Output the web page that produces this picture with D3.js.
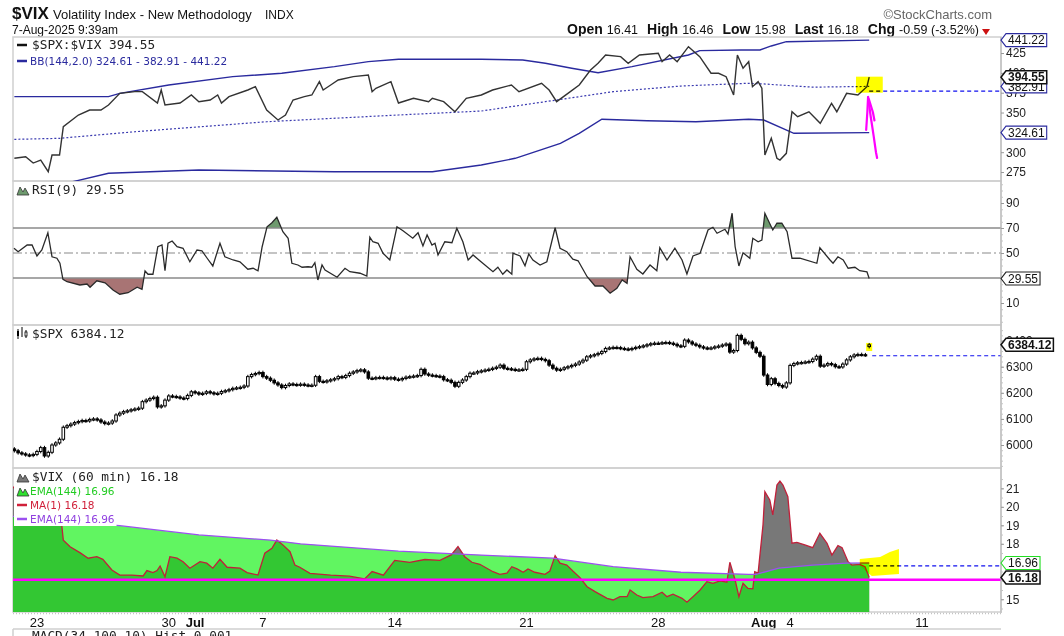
<!DOCTYPE html>
<html>
<head>
<meta charset="utf-8">
<title>$VIX Volatility Index</title>
<script src="https://cdn.jsdelivr.net/npm/d3@7/dist/d3.min.js"></script>
<style>
  body { margin: 0; background: #fff; overflow: hidden; }
</style>
</head>
<body>
<div id="chart"></div>
<script>
// hourly bars, bar 0 = first bar of 20-Jun-2025
var dayLabels = ["Jun 20", "Jun 23", "Jun 24", "Jun 25", "Jun 26", "Jun 27", "Jun 30",
  "Jul 1", "Jul 2", "Jul 3", "Jul 7", "Jul 8", "Jul 9", "Jul 10", "Jul 11", "Jul 14", "Jul 15",
  "Jul 16", "Jul 17", "Jul 18", "Jul 21", "Jul 22", "Jul 23", "Jul 24", "Jul 25", "Jul 28",
  "Jul 29", "Jul 30", "Jul 31", "Aug 1", "Aug 4", "Aug 5", "Aug 6", "Aug 7", "Aug 8", "Aug 11"];
var dayBars = [7, 7, 7, 7, 7, 7, 7, 7, 7, 4, 7, 7, 7, 7, 7, 7, 7, 7, 7, 7, 7, 7, 7, 7, 7, 7,
  7, 7, 7, 7, 7, 7, 7, 7, 7, 7];

var xTickDays = ["Jun 23", "Jun 30", "Jul 1", "Jul 7", "Jul 14", "Jul 21", "Jul 28", "Aug 1", "Aug 4", "Aug 11"];
var xTickText = ["23", "30", "Jul", "7", "14", "21", "28", "Aug", "4", "11"];

// $SPX:$VIX ratio
var ratioBar = [1, 4, 6, 8, 10, 11, 13, 14, 18, 21, 24, 26, 29, 33, 35, 39, 40, 41, 45, 48,
  50, 53, 55, 56, 58, 63, 65, 68, 71, 73, 75, 78, 80, 82, 83, 85, 87, 91, 95, 96,
  97, 101, 103, 107, 111, 112, 115, 118, 121, 125, 128, 133, 135, 141, 143, 145, 148, 151, 154, 156,
  158, 162, 164, 167, 172, 173, 175, 177, 180, 183, 186, 188, 190, 192, 193, 194.5, 196, 197, 198.5, 199.5,
  200.3, 202, 203.5, 204.3, 206, 207.5, 209, 212, 215, 218, 219.4, 222, 225, 227.4, 228];
var ratioVal = [292.3, 294.3, 286.3, 290.1, 275.4, 296.4, 296.4, 332.1, 346.9, 353.2,
  353.2, 359.5, 374.2, 376.3, 376.3, 362, 378.4, 359.5, 362, 372.1,
  363.7, 365.8, 372.1, 362, 370, 378.4, 382.6, 353.2, 340.6, 346.9,
  365.8, 370, 372.1, 388.9, 378.4, 384.7, 391, 395.2, 397.3, 376.3,
  380.6, 388.9, 362, 367.9, 363.7, 367.9, 363.7, 351, 367.9, 372.1,
  378.4, 384.7, 376.3, 386.9, 378.4, 363.7, 374.2, 384.7, 403.6, 412.1,
  422.5, 420.4, 412.1, 422.5, 424.7, 414.1, 422.5, 414.1, 433, 420.4,
  399.5, 399.5, 395.2, 372.1, 422.5, 405.8, 414.1, 382.6, 388.9, 380.6,
  296.4, 317.5, 292.3, 290.1, 298.6, 351, 344.7, 351, 336.4, 361.6,
  351, 374.2, 372.1, 382.6, 394.55];

// Bollinger bands (144, 2.0)
var bbUpperBar = [1, 13, 26, 29, 42, 59, 72, 86, 95, 103, 125, 136, 142, 149, 156, 165, 180, 183, 194, 199, 202, 206, 228];
var bbUpperVal = [370, 370, 370, 374.2, 384.7, 395.2, 399.5, 407.8, 414.1, 417.1, 417.1, 416.2,
  412.1, 405.8, 400.2, 407.8, 422.5, 428, 428.8, 428.8, 433.9, 439.3, 441.22];
var bbMidBar = [1, 13, 33, 68, 103, 125, 142, 160, 178, 196, 200, 213, 228];
var bbMidVal = [316.2, 317.5, 325.8, 338.4, 346.9, 351.9, 363.7, 376.3, 383.4, 386.9, 386, 382, 382.91];
var bbLowerBar = [1, 13, 18, 26, 50, 86, 112, 125, 134, 146, 151, 157, 169, 182, 196, 200, 208, 228];
var bbLowerVal = [256, 259, 264.5, 273.4, 277.5, 275.4, 275.4, 283.8, 292.3, 311.2, 323.8, 341.5,
  339.7, 338.4, 341.5, 340.6, 323.8, 324.61];

// RSI(9)
var rsiBar = [0.9, 2, 4.4, 5.7, 7, 8.3, 9.9, 11, 12.3, 13.1, 13.9, 15, 18.4, 20.3, 21.1, 22.9, 25.1, 27.2, 29, 31.2,
  33.6, 34.9, 35.7, 36.5, 37.8, 39.1, 40.2, 41, 41.8, 42.9, 44.2, 45.8, 47.6, 49.5, 50.8, 52.2, 53.7, 55.6, 56.9, 59.1,
  60.9, 63, 64.4, 65.7, 66.8, 68.1, 69.4, 70.7, 72.3, 73.7, 74.7, 76.3, 77.4, 79, 80, 80.8, 81.6, 82.7, 83.5, 86.7,
  88.8, 90.1, 92.8, 94.6, 95.4, 96.2, 97.6, 98.9, 100.7, 102.6, 104.2, 106.8, 108.2, 109.5, 110.6, 111.9, 112.7, 113.5, 115.3, 117.2,
  118.5, 120.1, 121.5, 122.8, 124.6, 128.1, 129.4, 130.7, 131.8, 133.1, 133.4, 135.3, 136.6, 137.6, 138.7, 140.6, 142.4, 144.6, 145.9, 147.7,
  149.3, 150.7, 153.1, 155.2, 157.3, 159.2, 161, 162.4, 163.7, 164.5, 166.3, 167.9, 169.8, 171.6, 172.4, 174.3, 176.4, 178.3, 179.6, 181.2,
  183.1, 185.2, 186.5, 187.6, 189.7, 190.5, 191.6, 192.4, 193.4, 194.5, 196.3, 197.1, 198.5, 199.5, 200.3, 202.4, 203.5, 204.8, 206.2, 207.5,
  209.6, 214.1, 214.9, 217.6, 218.4, 219.7, 221.1, 222.4, 224.2, 225.5, 227.4, 228];
var rsiVal = [53.8, 51, 56.4, 56.4, 47.6, 52.4, 66.2, 47, 45.8, 41.8, 29, 27, 24.4, 25.2, 22.6, 27.8, 26.2, 20.4, 17, 18.2,
  22.6, 21, 35.6, 33, 33, 55, 56.4, 35.8, 57.8, 59.6, 55, 53.8, 43, 52.4, 51.8, 45.8, 39.6, 57.8, 47, 44.4,
  43, 37, 37.8, 35.8, 55, 71, 74.2, 78.6, 67, 61.8, 41.8, 40.4, 38.6, 39, 38.6, 42.2, 28.4, 40.4, 36.4, 30.6,
  37.8, 35, 33.8, 31.6, 62.6, 59, 57.8, 49.8, 44.4, 71, 67.8, 61.8, 66.2, 55.6, 64.4, 56.4, 57.8, 48.4, 59, 58.2,
  69.8, 59, 44.4, 48.4, 43.8, 35, 38.6, 33, 36.4, 33, 49.8, 47.6, 39.8, 49.2, 44.4, 40.4, 43, 70.2, 53.8, 51,
  45, 43.8, 31, 23.6, 23.6, 17.8, 21.8, 28.4, 25.8, 47, 37, 33.2, 40.4, 35.8, 54.2, 44.4, 53.8, 44.4, 33.2, 47.6,
  49.8, 68.4, 70.6, 65.8, 69, 65.2, 81.8, 55, 39.6, 50.2, 45.8, 61.8, 59, 60.4, 81.8, 68.4, 73.8, 73.8, 67, 45.8,
  45.8, 41.8, 54.2, 44.4, 41.8, 47, 44.4, 37.8, 38.6, 35.8, 35, 29.55];

// $SPX hourly closes, one per bar
var spxClose = [
  5985, 5978, 5970, 5966, 5962, 5960, 5964,   // Jun 20
  5975, 5990, 5958, 5972, 6000, 6008, 6022,   // Jun 23
  6068, 6074, 6080, 6086, 6090, 6094, 6092,   // Jun 24
  6098, 6100, 6096, 6088, 6082, 6084, 6092,   // Jun 25
  6115, 6122, 6128, 6131, 6135, 6138, 6141,   // Jun 26
  6166, 6172, 6178, 6183, 6146, 6150, 6172,   // Jun 27
  6188, 6186, 6184, 6180, 6178, 6190, 6204,   // Jun 30
  6200, 6195, 6198, 6204, 6200, 6196, 6198,   // Jul 1
  6205, 6208, 6212, 6217, 6219, 6221, 6226,   // Jul 2
  6262, 6270, 6274, 6278,                     // Jul 3
  6262, 6256, 6248, 6238, 6230, 6220, 6228,   // Jul 7
  6234, 6232, 6230, 6233, 6230, 6228, 6229,   // Jul 8
  6262, 6244, 6242, 6246, 6250, 6254, 6262,   // Jul 9
  6259, 6266, 6275, 6280, 6285, 6288, 6280,   // Jul 10
  6256, 6255, 6258, 6259, 6257, 6254, 6258,   // Jul 11
  6252, 6250, 6255, 6260, 6262, 6264, 6266,   // Jul 14
  6290, 6272, 6268, 6266, 6264, 6262, 6250,   // Jul 15
  6248, 6240, 6225, 6240, 6249, 6262, 6275,   // Jul 16
  6276, 6281, 6284, 6287, 6290, 6294, 6298,   // Jul 17
  6306, 6294, 6292, 6290, 6287, 6288, 6290,   // Jul 18
  6319, 6326, 6330, 6332, 6328, 6323, 6306,   // Jul 21
  6294, 6287, 6290, 6296, 6300, 6305, 6310,   // Jul 22
  6318, 6325, 6338, 6342, 6346, 6351, 6358,   // Jul 23
  6370, 6372, 6374, 6373, 6370, 6368, 6366,   // Jul 24
  6370, 6374, 6377, 6380, 6384, 6388, 6390,   // Jul 25
  6390, 6392, 6393, 6390, 6386, 6380, 6378,   // Jul 28
  6402, 6395, 6387, 6382, 6376, 6372, 6370,   // Jul 29
  6372, 6376, 6379, 6383, 6387, 6356, 6362,   // Jul 30
  6420, 6405, 6388, 6394, 6372, 6355, 6340,   // Jul 31
  6268, 6232, 6254, 6236, 6228, 6222, 6238,   // Aug 1
  6305, 6312, 6315, 6316, 6318, 6320, 6329,   // Aug 4
  6340, 6302, 6306, 6312, 6308, 6300, 6299,   // Aug 5
  6310, 6326, 6338, 6345, 6347, 6346, 6345,   // Aug 6
  6384                                        // Aug 7
];
var spxGapBar = [228];
var spxGapOpen = [6377];

// $VIX 60 min closes
var vixBar = [0, 2, 4, 6, 8, 10, 12, 13.6, 14, 15.8, 18.4, 20.6, 22.9, 24.5, 26.9, 29, 32.2, 35.2, 36.2, 37.8,
  38.9, 39.7, 41, 42.3, 44.2, 45.8, 47.6, 50.3, 52.1, 53.7, 55.6, 57.5, 60.9, 62.8, 65.7, 67.5, 69.4, 70.7, 72.3, 74.2,
  75.5, 76.8, 79.5, 85, 90, 94, 96, 99, 102, 106, 110, 114, 117, 118.8, 120.6, 122.5, 124.6, 128.1, 129.9, 131.8,
  133.1, 134.5, 136.1, 137.4, 139.2, 141.9, 143.2, 144.6, 145.9, 147.7, 149.3, 151.2, 153.1, 155.2, 158.4, 160, 161.8, 163.7, 164.5, 166.3,
  167.9, 170.6, 173, 174.3, 175.9, 178.3, 179.6, 181.2, 183.1, 184.9, 186.5, 188.4, 190.2, 191, 192.4, 193.4, 194.5, 195.8, 197.1, 197.6,
  198.5, 199.8, 200.3, 201.6, 202.4, 203.5, 204.3, 205.1, 206.4, 207.5, 208.8, 210.9, 213, 214.9, 216.8, 218.1, 219.7, 220.8, 222.4, 223.4,
  225.5, 226.9, 228];
var vixVal = [20.9, 21.3, 20.8, 20.6, 20.9, 21.4, 20.2, 18.98, 18.2, 17.84, 17.52, 17.22, 17.3, 17.16, 16.58, 16.31, 16.31, 16.26, 16.55, 16.44,
  16.55, 16.8, 16.22, 17.3, 17.22, 17.03, 16.68, 17.03, 16.95, 16.68, 17.16, 16.73, 16.68, 16.44, 16.31, 17.49, 17.76, 18.2, 17.94, 17.57,
  16.85, 16.73, 16.4, 16.3, 16.25, 16.1, 16.5, 16.3, 17.1, 17.0, 17.15, 17.1, 17.4, 17.85, 17.3, 17.0, 16.89, 16.49, 16.35, 16.41,
  16.76, 16.64, 16.46, 16.64, 16.46, 16.35, 16.53, 17.36, 16.95, 16.85, 16.53, 16.17, 15.68, 15.41, 15.05, 14.96, 15.14, 15.14, 15.5, 15.23,
  15.09, 15.14, 15.38, 15.14, 15.27, 15.05, 14.84, 15.14, 15.5, 15.95, 15.86, 15.99, 15.92, 17.0, 16.04, 15.14, 15.86, 15.59, 15.56, 16.49,
  16.41, 19.02, 20.82, 20.37, 19.56, 21.18, 21.39, 21.18, 20.55, 18.03, 18.08, 17.94, 17.79, 18.57, 18.03, 17.39, 17.9, 17.79, 17.03, 16.85,
  16.89, 16.76, 16.18];

// EMA(144) of $VIX
var emaBar = [0, 14, 29, 50, 69, 77, 103, 125, 144, 160, 178, 196, 198, 204, 213, 222, 228];
var emaVal = [19.5, 19.2, 18.98, 18.48, 18.2, 18.0, 17.6, 17.39, 17.22, 16.76, 16.46, 16.35, 16.35, 16.68, 16.85, 16.95, 16.96];

var quoteNames = ["Open", "High", "Low", "Last", "Chg"];
var quoteValues = ["16.41", "16.46", "15.98", "16.18", "-0.59 (-3.52%)"];

var SANS = "'Liberation Sans', Arial, sans-serif";
var MONO = "'DejaVu Sans Mono', monospace";
var LEG = "'DejaVu Sans', sans-serif";

var svgWidth = 1064;
var svgHeight = 636;
var plotLeft = 13;
var plotRight = 1001;
var panels = [
  { top: 37, bottom: 181 },
  { top: 181, bottom: 325 },
  { top: 325, bottom: 468 },
  { top: 468, bottom: 612 }
];

// day start bar numbers
var dayStart = [];
var acc = 0;
dayBars.forEach(function(n) {
  dayStart.push(acc);
  acc += n;
});
function barOf(day) {
  return dayStart[dayLabels.indexOf(day)];
}

var svg = d3.select("#chart")
  .append("svg")
  .attr("width", svgWidth)
  .attr("height", svgHeight);

svg.append("rect").attr("width", svgWidth).attr("height", svgHeight).attr("fill", "#fff");

var x = d3.scaleLinear().domain([0.64, 263]).range([plotLeft, plotRight]);
var y1 = d3.scaleLinear().domain([263.7, 445.2]).range([panels[0].bottom, panels[0].top]);
var y2 = d3.scaleLinear().domain([-7.6, 107.6]).range([panels[1].bottom, panels[1].top]);
var y3 = d3.scaleLinear().domain([5911.9, 6459.8]).range([panels[2].bottom, panels[2].top]);
var y4 = d3.scaleLinear().domain([14.31, 22.1]).range([panels[3].bottom, panels[3].top]);

// clip paths
var defs = svg.append("defs");
panels.forEach(function(p, i) {
  defs.append("clipPath").attr("id", "clip" + i)
    .append("rect")
    .attr("x", plotLeft).attr("y", p.top)
    .attr("width", plotRight - plotLeft).attr("height", p.bottom - p.top);
});
defs.append("clipPath").attr("id", "rsiHi")
  .append("rect").attr("x", plotLeft).attr("y", panels[1].top)
  .attr("width", plotRight - plotLeft).attr("height", y2(70) - panels[1].top);
defs.append("clipPath").attr("id", "rsiLo")
  .append("rect").attr("x", plotLeft).attr("y", y2(30))
  .attr("width", plotRight - plotLeft).attr("height", panels[1].bottom - y2(30));

function lineOf(yScale) {
  return d3.line().x(function(d) { return x(d[0]); }).y(function(d) { return yScale(d[1]); });
}

// header
svg.append("text").attr("x", 12).attr("y", 19).attr("font-family", SANS)
  .attr("font-size", 17).attr("font-weight", "bold").attr("fill", "#111").text("$VIX");
svg.append("text").attr("x", 53).attr("y", 19).attr("font-family", SANS)
  .attr("font-size", 13).attr("fill", "#111").text("Volatility Index - New Methodology");
svg.append("text").attr("x", 265).attr("y", 19).attr("font-family", SANS)
  .attr("font-size", 12).attr("fill", "#111").text("INDX");
svg.append("text").attr("x", 12).attr("y", 34).attr("font-family", SANS)
  .attr("font-size", 12).attr("fill", "#111").text("7-Aug-2025 9:39am");
svg.append("text").attr("x", 992).attr("y", 19).attr("text-anchor", "end").attr("font-family", SANS)
  .attr("font-size", 13).attr("fill", "#666").text("\u00A9StockCharts.com");

var quote = svg.append("text").attr("x", 567).attr("y", 34).attr("font-family", SANS).attr("fill", "#111");
quoteNames.forEach(function(n, i) {
  quote.append("tspan").attr("dx", i ? 9 : 0).attr("font-size", 14).attr("font-weight", "bold").text(n);
  quote.append("tspan").attr("dx", 4).attr("font-size", 12.5).text(quoteValues[i]);
});
svg.append("path").attr("d", "M982,29h8l-4,6z").attr("fill", "#cc1111");

// panel frames
panels.forEach(function(p) {
  svg.append("rect")
    .attr("x", plotLeft).attr("y", p.top)
    .attr("width", plotRight - plotLeft).attr("height", p.bottom - p.top)
    .attr("fill", "none").attr("stroke", "#cfcfcf").attr("stroke-width", 1.5);
});

// ---- panel 1: $SPX:$VIX with BB ----
var g1 = svg.append("g").attr("clip-path", "url(#clip0)");
g1.append("path").datum(d3.zip(bbUpperBar, bbUpperVal)).attr("d", lineOf(y1))
  .attr("fill", "none").attr("stroke", "#2a2a9e").attr("stroke-width", 1.4);
g1.append("path").datum(d3.zip(bbLowerBar, bbLowerVal)).attr("d", lineOf(y1))
  .attr("fill", "none").attr("stroke", "#2a2a9e").attr("stroke-width", 1.4);
g1.append("path").datum(d3.zip(bbMidBar, bbMidVal)).attr("d", lineOf(y1))
  .attr("fill", "none").attr("stroke", "#3a3ab0").attr("stroke-width", 1.2).attr("stroke-dasharray", "2,2");
g1.append("path").datum(d3.zip(ratioBar, ratioVal)).attr("d", lineOf(y1))
  .attr("fill", "none").attr("stroke", "#333").attr("stroke-width", 1.4);
g1.append("line")
  .attr("x1", x(228)).attr("x2", plotRight).attr("y1", y1(377)).attr("y2", y1(377))
  .attr("stroke", "#1010ee").attr("stroke-width", 1.2).attr("stroke-dasharray", "4,3");
// yellow marker + hand drawn arrow
svg.append("rect")
  .attr("x", x(224.5)).attr("y", y1(395.2))
  .attr("width", x(231.6) - x(224.5)).attr("height", y1(375) - y1(395.2))
  .attr("fill", "#ffff00").style("mix-blend-mode", "multiply");
var arrowStrokes = [
  [[227.2, 328], [227.5, 350], [227.7, 369.6]],
  [[227.7, 369.6], [228.4, 345], [229.2, 320], [229.8, 300], [230.1, 292.7]],
  [[227.9, 367], [229.0, 350], [229.4, 340]]
];
arrowStrokes.forEach(function(s) {
  svg.append("path").datum(s).attr("d", lineOf(y1))
    .attr("fill", "none").attr("stroke", "#ff00ff").attr("stroke-width", 2.2)
    .attr("stroke-linecap", "round");
});

// ---- panel 2: RSI ----
var g2 = svg.append("g").attr("clip-path", "url(#clip1)");
var rsiPts = d3.zip(rsiBar, rsiVal);
g2.append("g").attr("clip-path", "url(#rsiHi)").append("path").datum(rsiPts)
  .attr("d", d3.area().x(function(d) { return x(d[0]); }).y0(y2(70)).y1(function(d) { return y2(d[1]); }))
  .attr("fill", "#6e9a6e");
g2.append("g").attr("clip-path", "url(#rsiLo)").append("path").datum(rsiPts)
  .attr("d", d3.area().x(function(d) { return x(d[0]); }).y0(y2(30)).y1(function(d) { return y2(d[1]); }))
  .attr("fill", "#a87474");
[70, 30].forEach(function(v) {
  g2.append("line").attr("x1", plotLeft).attr("x2", plotRight).attr("y1", y2(v)).attr("y2", y2(v))
    .attr("stroke", "#8a8a8a").attr("stroke-width", 1.3);
});
g2.append("line").attr("x1", plotLeft).attr("x2", plotRight).attr("y1", y2(50)).attr("y2", y2(50))
  .attr("stroke", "#8a8a8a").attr("stroke-width", 1.2).attr("stroke-dasharray", "9,3,2,3");
g2.append("path").datum(rsiPts).attr("d", lineOf(y2))
  .attr("fill", "none").attr("stroke", "#2a2a2a").attr("stroke-width", 1.3);

// ---- panel 3: $SPX candles ----
var g3 = svg.append("g").attr("clip-path", "url(#clip2)");
var candles = spxClose.map(function(c, i) {
  var gi = spxGapBar.indexOf(i);
  var o = gi >= 0 ? spxGapOpen[gi] : (i ? spxClose[i - 1] : c);
  return { bar: i, open: o, close: c };
});
var cg = g3.selectAll("g.candle").data(candles).enter().append("g").attr("class", "candle");
cg.append("line")
  .attr("x1", function(d) { return x(d.bar); })
  .attr("x2", function(d) { return x(d.bar); })
  .attr("y1", function(d) { return y3(Math.max(d.open, d.close)) - 1.8; })
  .attr("y2", function(d) { return y3(Math.min(d.open, d.close)) + 1.8; })
  .attr("stroke", "#000").attr("stroke-width", 1);
cg.append("rect")
  .attr("x", function(d) { return x(d.bar) - 1.3; })
  .attr("width", 2.6)
  .attr("y", function(d) { return y3(Math.max(d.open, d.close)); })
  .attr("height", function(d) { return Math.max(1.2, Math.abs(y3(d.open) - y3(d.close))); })
  .attr("fill", function(d) { return d.close > d.open ? "#fff" : "#000"; })
  .attr("stroke", "#000").attr("stroke-width", 1);
g3.append("line")
  .attr("x1", x(228) + 3).attr("x2", plotRight).attr("y1", y3(6342)).attr("y2", y3(6342))
  .attr("stroke", "#1010ee").attr("stroke-width", 1.2).attr("stroke-dasharray", "4,3");
svg.append("rect")
  .attr("x", x(227.2)).attr("y", y3(6391))
  .attr("width", x(228.8) - x(227.2)).attr("height", y3(6360) - y3(6391))
  .attr("fill", "#ffff00").style("mix-blend-mode", "multiply");

// ---- panel 4: $VIX 60 min ----
var g4 = svg.append("g").attr("clip-path", "url(#clip3)");
var vixPts = d3.zip(vixBar, vixVal);
var emaPts = d3.zip(emaBar, emaVal);
var areaOf = d3.area().x(function(d) { return x(d[0]); }).y0(panels[3].bottom).y1(function(d) { return y4(d[1]); });
g4.append("path").datum(vixPts).attr("d", areaOf).attr("fill", "#787878");
g4.append("path").datum(emaPts).attr("d", areaOf).attr("fill", "rgb(15,240,15)").attr("fill-opacity", 0.66);
g4.append("path").datum(vixPts).attr("d", lineOf(y4))
  .attr("fill", "none").attr("stroke", "#c0203a").attr("stroke-width", 1.3);
g4.append("path").datum(emaPts).attr("d", lineOf(y4))
  .attr("fill", "none").attr("stroke", "#9c50f0").attr("stroke-width", 1.3);
g4.append("line").attr("x1", plotLeft).attr("x2", plotRight).attr("y1", y4(16.05)).attr("y2", y4(16.05))
  .attr("stroke", "#ff00ff").attr("stroke-width", 2.5);
g4.append("line")
  .attr("x1", x(228)).attr("x2", plotRight).attr("y1", y4(16.8)).attr("y2", y4(16.8))
  .attr("stroke", "#1010ee").attr("stroke-width", 1.2).attr("stroke-dasharray", "4,3");
var swoosh = [[225.5, 17.18], [230.9, 17.29], [233.5, 17.56], [235.9, 17.72], [235.9, 16.37], [228.7, 16.26], [225.5, 16.8]];
svg.append("path").datum(swoosh).attr("d", lineOf(y4).curve(d3.curveLinearClosed))
  .attr("fill", "#ffff00").style("mix-blend-mode", "multiply");

// ---- legends ----
function legendRow(yc, label, color, font, size, icon) {
  var g = svg.append("g");
  var t = g.append("text").attr("x", icon === "line" ? 30 : 32)
    .attr("y", yc + 4).attr("font-family", font).attr("font-size", size)
    .attr("fill", color).text(label);
  var w = t.node().getComputedTextLength() + (+t.attr("x"));
  g.insert("rect", "text").attr("x", plotLeft + 1).attr("y", yc - 7)
    .attr("width", w - plotLeft + 1).attr("height", 14).attr("fill", "#fff");
  return g;
}
function dashIcon(g, yc, color) {
  g.append("line").attr("x1", 17).attr("x2", 27).attr("y1", yc).attr("y2", yc)
    .attr("stroke", color).attr("stroke-width", 2.5);
}
function mountIcon(g, yc, color) {
  g.append("path").attr("d", "M17," + (yc + 5) + "l3,-8l3,5l2,-4l4,7z")
    .attr("fill", color).attr("stroke", "#333").attr("stroke-width", 0.8);
}

var r1 = legendRow(45, "$SPX:$VIX 394.55", "#222", MONO, 12.8, "mono");
dashIcon(r1, 45, "#111");
var r2 = legendRow(61, "BB(144,2.0) 324.61 - 382.91 - 441.22", "#2a2a9e", LEG, 10.5, "line");
dashIcon(r2, 61, "#2a2a9e");

var r3 = legendRow(190, "RSI(9) 29.55", "#222", MONO, 12.8, "area");
mountIcon(r3, 190, "#6e9a6e");

var r4 = legendRow(334, "$SPX 6384.12", "#222", MONO, 12.8, "candle");
r4.append("path").attr("d", "M18,329v10M22,327v10M26,330v8").attr("stroke", "#000").attr("stroke-width", 1);
r4.append("rect").attr("x", 17).attr("y", 331).attr("width", 2).attr("height", 5).attr("fill", "#000");
r4.append("rect").attr("x", 25).attr("y", 332).attr("width", 2).attr("height", 4).attr("fill", "#fff").attr("stroke", "#000").attr("stroke-width", 0.8);

var r5 = legendRow(477, "$VIX (60 min) 16.18", "#222", MONO, 12.8, "area");
mountIcon(r5, 477, "#787878");
var r6 = legendRow(491, "EMA(144) 16.96", "#22cc22", LEG, 10.5, "line");
mountIcon(r6, 491, "#2ee02e");
var r7 = legendRow(505, "MA(1) 16.18", "#d0203a", LEG, 10.5, "line");
dashIcon(r7, 505, "#d0203a");
var r8 = legendRow(519, "EMA(144) 16.96", "#9040e0", LEG, 10.5, "line");
dashIcon(r8, 519, "#9c50f0");

// ---- right axes ----
svg.append("line").attr("x1", plotRight).attr("x2", plotRight).attr("y1", panels[0].top).attr("y2", panels[3].bottom + 1)
  .attr("stroke", "#bdbdbd").attr("stroke-width", 1.2);

function rightAxis(scale, ticks, minor) {
  if (minor) {
    var m = svg.append("g").attr("transform", "translate(" + plotRight + ",0)")
      .call(d3.axisRight(scale).tickValues(minor).tickSize(2).tickFormat(""));
    m.select(".domain").remove();
    m.selectAll("line").attr("stroke", "#c4c4c4");
  }
  var g = svg.append("g").attr("transform", "translate(" + plotRight + ",0)")
    .call(d3.axisRight(scale).tickValues(ticks).tickSize(3).tickPadding(2).tickFormat(d3.format("d")));
  g.select(".domain").remove();
  g.selectAll("line").attr("stroke", "#999");
  g.selectAll("text").attr("font-family", SANS).attr("font-size", 12).attr("fill", "#222");
}
// ticks that sit under a value tag are left out
rightAxis(y1, [275, 300, 350, 375, 400, 425]);
rightAxis(y2, [10, 50, 70, 90], d3.range(-5, 106, 5));
rightAxis(y3, [6000, 6100, 6200, 6300, 6400], d3.range(5920, 6460, 20));
rightAxis(y4, [15, 18, 19, 20, 21], d3.range(14.5, 22, 0.5));

// value tags
function tag(yPix, label, color, bold) {
  var g = svg.append("g");
  var t = g.append("text").attr("x", plotRight + 7).attr("y", yPix + 4.3)
    .attr("font-family", SANS).attr("font-size", 12)
    .attr("font-weight", bold ? "bold" : "normal")
    .attr("fill", "#111").text(label);
  var w = t.node().getComputedTextLength();
  g.insert("path", "text")
    .attr("d", "M" + plotRight + "," + yPix + "l5,-6.5h" + (w + 4) + "v13h-" + (w + 4) + "z")
    .attr("fill", "#fff").attr("stroke", color).attr("stroke-width", bold ? 1.5 : 1.1);
}
tag(y1(441.22), "441.22", "#2a2a9e", false);
tag(y1(382.91), "382.91", "#2a2a9e", false);
tag(y1(394.55), "394.55", "#111", true);
tag(y1(324.61), "324.61", "#2a2a9e", false);
tag(y2(29.55), "29.55", "#222", false);
tag(y3(6384.12), "6384.12", "#111", true);
tag(y4(16.96), "16.96", "#22dd22", false);
tag(y4(16.18), "16.18", "#111", true);

// ---- x axis ----
svg.append("line").attr("x1", plotLeft).attr("x2", plotRight).attr("y1", 613.5).attr("y2", 613.5)
  .attr("stroke", "#c4c4c4").attr("stroke-width", 1.5).attr("stroke-dasharray", "1,2");
xTickDays.forEach(function(d, i) {
  var bold = isNaN(+xTickText[i]);
  svg.append("text").attr("x", x(barOf(d))).attr("y", 627)
    .attr("text-anchor", "middle").attr("font-family", SANS).attr("font-size", 13)
    .attr("font-weight", bold ? "bold" : "normal").attr("fill", "#111").text(xTickText[i]);
});

// next panel, cut off by the picture edge
svg.append("line").attr("x1", plotLeft).attr("x2", plotRight).attr("y1", 629).attr("y2", 629)
  .attr("stroke", "#cfcfcf").attr("stroke-width", 1.5);
svg.append("line").attr("x1", plotLeft).attr("x2", plotLeft).attr("y1", 629).attr("y2", 636)
  .attr("stroke", "#cfcfcf").attr("stroke-width", 1.5);
svg.append("text").attr("x", 32).attr("y", 640).attr("font-family", MONO).attr("font-size", 12.8)
  .attr("fill", "#222").text("MACD(34,100,10) Hist 0.001");
</script>
</body>
</html>
